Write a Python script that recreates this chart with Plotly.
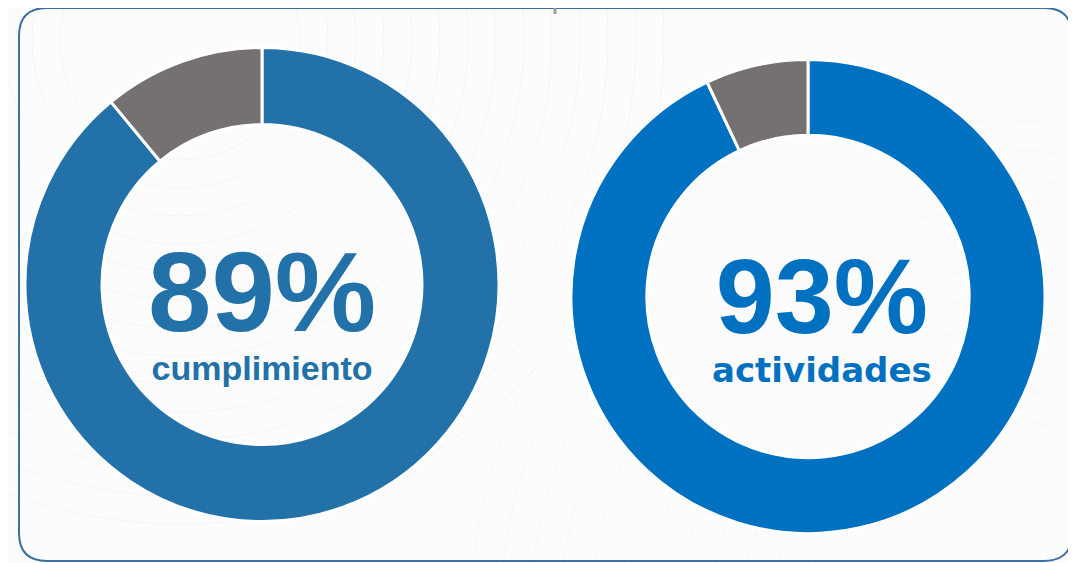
import plotly.graph_objects as go

# ---- data ----
labels = ["Completado", "Pendiente"]
cumplimiento_values = [89, 11]
actividades_values = [93, 7]
center_values = ["89%", "93%"]
center_labels = ["cumplimiento", "actividades"]

# page body has an 8px margin; work in reference pixel coords and shift
OFF = 8
W, H = 1076 - OFF, 563 - OFF
BLUE_L = "#2271A8"
BLUE_R = "#0070C0"
GRAY = "#757171"

def px(x):
    return (x - OFF) / W

def py(y):
    return 1 - (y - OFF) / H

fig = go.Figure()

fig.add_trace(go.Pie(
    labels=labels, values=cumplimiento_values, hole=0.675, sort=False,
    direction="clockwise", rotation=0,
    marker=dict(colors=[BLUE_L, GRAY], line=dict(color="white", width=3)),
    textinfo="none", hoverinfo="label+percent", showlegend=False,
    domain=dict(x=[px(25), px(499)], y=[py(522), py(47)]),
))
fig.add_trace(go.Pie(
    labels=labels, values=actividades_values, hole=0.68, sort=False,
    direction="clockwise", rotation=0,
    marker=dict(colors=[BLUE_R, GRAY], line=dict(color="white", width=3)),
    textinfo="none", hoverinfo="label+percent", showlegend=False,
    domain=dict(x=[px(571), px(1045)], y=[py(534), py(59)]),
))

# background faint arcs
shapes = []
for i in range(14):
    r = 120 + i * 28
    cx, cy = 180, 40
    shapes.append(dict(type="circle", xref="paper", yref="paper",
                       x0=px(cx - r), x1=px(cx + r), y0=py(cy + r), y1=py(cy - r),
                       line=dict(color="rgba(0,0,0,0.03)", width=1), layer="below"))
for i in range(12):
    r = 200 + i * 30
    cx, cy = 1000, 620
    shapes.append(dict(type="circle", xref="paper", yref="paper",
                       x0=px(cx - r), x1=px(cx + r), y0=py(cy + r), y1=py(cy - r),
                       line=dict(color="rgba(0,0,0,0.025)", width=1), layer="below"))

# rounded border
x0, x1, y0, y1, r = 19, 1072, 8, 561, 28
path = (f"M {px(x0 + r)},{py(y0)} L {px(x1 - r)},{py(y0)} "
        f"Q {px(x1)},{py(y0)} {px(x1)},{py(y0 + r)} "
        f"L {px(x1)},{py(y1 - r)} Q {px(x1)},{py(y1)} {px(x1 - r)},{py(y1)} "
        f"L {px(x0 + r)},{py(y1)} Q {px(x0)},{py(y1)} {px(x0)},{py(y1 - r)} "
        f"L {px(x0)},{py(y0 + r)} Q {px(x0)},{py(y0)} {px(x0 + r)},{py(y0)} Z")
shapes.append(dict(type="path", xref="paper", yref="paper", path=path,
                   line=dict(color="#3E6FA3", width=2), layer="below"))
# small top tick
shapes.append(dict(type="line", xref="paper", yref="paper",
                   x0=px(555), x1=px(555), y0=py(OFF), y1=py(14),
                   line=dict(color="#9A9A9A", width=3)))

annotations = [
    dict(text=(f"<span style='font-size:114px'><b>{center_values[0]}</b></span><br>"
               f"<span style='font-size:34px'><b>{center_labels[0]}</b></span>"),
         x=px(262), y=py(307), xref="paper", yref="paper",
         showarrow=False, xanchor="center", yanchor="middle", align="center",
         font=dict(family="Liberation Sans", size=38, color=BLUE_L)),
    dict(text=(f"<span style='font-size:106px'><b>{center_values[1]}</b></span><br>"
               f"<span style='font-size:34px;font-family:DejaVu Sans'><b>{center_labels[1]}</b></span>"),
         x=px(822), y=py(313), xref="paper", yref="paper",
         showarrow=False, xanchor="center", yanchor="middle", align="center",
         font=dict(family="Liberation Sans", size=38, color=BLUE_R)),
]

fig.update_layout(
    width=W, height=H, margin=dict(l=0, r=0, t=0, b=0),
    paper_bgcolor="#FCFCFC", plot_bgcolor="#FCFCFC",
    shapes=shapes, annotations=annotations,
)

fig.write_html("out.html")
